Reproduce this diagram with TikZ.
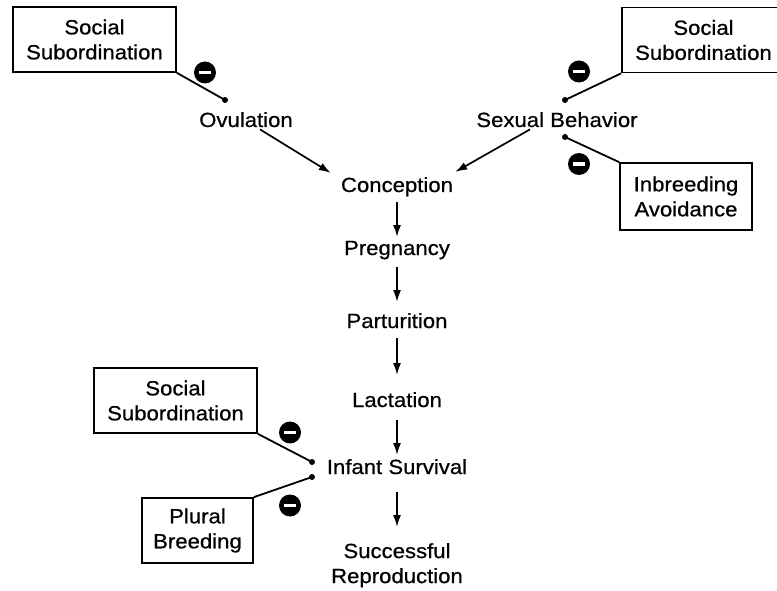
\documentclass[tikz,border=0pt]{standalone}
\usepackage{fontspec}
\setmainfont{Liberation Sans}[FakeStretch=1.08,FakeBold=0.6]
\usetikzlibrary{arrows.meta}
\begin{document}
\begin{tikzpicture}[x=1pt,y=-1pt,
  every node/.style={font=\fontsize{20.5}{25}\selectfont},
  lbl/.style={anchor=base,inner sep=2pt},
  sbox/.style={draw,line width=1.7pt,align=center,inner sep=0pt,minimum height=65pt},
  minus/.style={circle,fill=black,minimum size=22pt,inner sep=0pt},
  arr/.style={line width=1.7pt,-{Latex[length=12pt,width=8pt]}},
  inh/.style={line width=1.8pt},
  dotc/.style={fill=black}
]
\useasboundingbox (0,0) rectangle (777,591);
\clip (0,0) rectangle (777,591);

% main chain
\node[lbl] (ovu) at (246,127) {Ovulation};
\node[lbl] (sex) at (557,127) {Sexual Behavior};
\node[lbl] (con) at (397,192) {Conception};
\node[lbl] (preg) at (397,255) {Pregnancy};
\node[lbl] (part) at (397,328) {Parturition};
\node[lbl] (lact) at (397,407) {Lactation};
\node[lbl] (inf) at (397,474) {Infant Survival};
\node[align=center,anchor=north,inner sep=0pt] (succ) at (397,543) {Successful\\Reproduction};

% boxes
\node[sbox,minimum width=163pt] (b1) at (94.5,39.5) {Social\\Subordination};
\node[sbox,minimum width=163pt] (b2) at (703.5,40) {Social\\Subordination};
\node[sbox,minimum width=132pt,minimum height=67pt] (b3) at (686,196.5) {Inbreeding\\Avoidance};
\node[sbox,minimum width=163pt] (b4) at (175.5,400.5) {Social\\Subordination};
\node[sbox,minimum width=111pt] (b5) at (197.5,530.5) {Plural\\Breeding};

% minus signs
\foreach \n/\x/\y in {m1/205/72.5, m2/579/71.5, m3/579/164, m4/290/432.5, m5/290/505.5}
  \node[minus] (\n) at (\x,\y) {\color{white}\rule[-1.6pt]{12pt}{3.2pt}};

% inhibition endpoints
\coordinate (d1) at (225,100);
\coordinate (d2) at (565,100);
\coordinate (d3) at (565,137);
\coordinate (d4) at (312,462);
\coordinate (d5) at (312,477);
\foreach \d in {d1,d2,d3,d4,d5} \fill[dotc] (\d) circle (3pt);

\draw[inh] (b1.south east) -- (d1);
\draw[inh] (b2.south west) -- (d2);
\draw[inh] (d3) -- (b3.north west);
\draw[inh] (b4.south east) -- (d4);
\draw[inh] (b5.north east) -- (d5);

% arrows
\draw[arr] ([xshift=14pt]ovu.south) -- ([xshift=-8pt,yshift=2pt]con.north west);
\draw[arr] ([xshift=-27pt]sex.south) -- ([yshift=3pt]con.north east);
\draw[arr] ([yshift=-10pt]con.base) -- ([yshift=18pt]preg.base);
\draw[arr] ([yshift=-12pt]preg.base) -- ([yshift=26pt]part.base);
\draw[arr] ([yshift=-10pt]part.base) -- ([yshift=32pt]lact.base);
\draw[arr] ([yshift=-13pt]lact.base) -- ([yshift=19pt]inf.base);
\draw[arr] ([yshift=-18pt]inf.base) -- ([yshift=16pt]succ.north);
\end{tikzpicture}
\end{document}
